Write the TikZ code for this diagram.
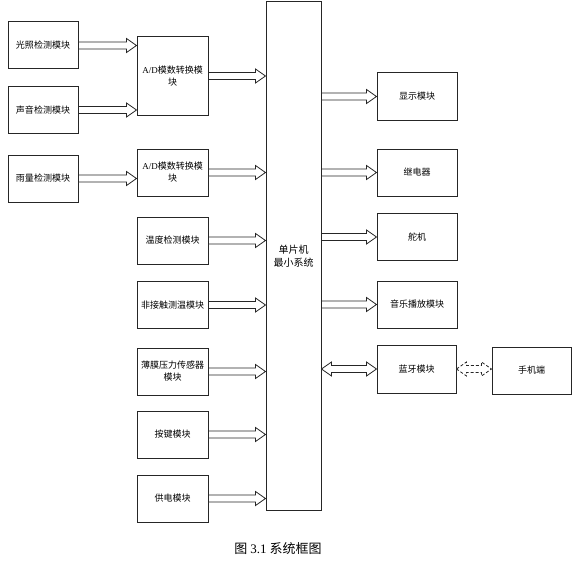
\documentclass[tikz,border=0pt]{standalone}
\usepackage{fontspec}
\setmainfont{Liberation Serif}
\newfontfamily\cjk{Noto Sans CJK SC}
\usepackage{tikz}
\usetikzlibrary{calc}

\begin{document}
\begin{tikzpicture}[x=1pt, y=-1pt,
  every node/.style={font=\cjk\fontsize{9}{12}\selectfont},
  blk/.style={draw=black!85, line width=1pt, minimum width=71pt,
    minimum height=47pt, align=center, inner sep=1pt},
  fat/.style={draw=black!85, line width=0.8pt, fill=white, line join=miter,
    to path={let \p1=(\tikztostart), \p2=(\tikztotarget) in
      (\x1,\y1+3.5pt) -- (\x2-10pt,\y1+3.5pt) -- (\x2-10pt,\y1+7pt)
      -- (\x2,\y1) -- (\x2-10pt,\y1-7pt) -- (\x2-10pt,\y1-3.5pt)
      -- (\x1,\y1-3.5pt) -- cycle}},
  fatboth/.style={draw=black!85, line width=0.8pt, fill=white, line join=miter,
    to path={let \p1=(\tikztostart), \p2=(\tikztotarget) in
      (\x1,\y1) -- (\x1+10pt,\y1+7pt) -- (\x1+10pt,\y1+3.5pt)
      -- (\x2-10pt,\y1+3.5pt) -- (\x2-10pt,\y1+7pt) -- (\x2,\y1)
      -- (\x2-10pt,\y1-7pt) -- (\x2-10pt,\y1-3.5pt)
      -- (\x1+10pt,\y1-3.5pt) -- (\x1+10pt,\y1-7pt) -- cycle}}]

\useasboundingbox (0,0) rectangle (577,567);

% sensors and input modules
\node[blk, minimum width=70pt] (light) at (43,45.5) {光照检测模块};
\node[blk, minimum width=70pt, minimum height=46pt] (sound) at (43,110) {声音检测模块};
\node[blk, minimum width=70pt] (rain) at (43,178.5) {雨量检测模块};
\node[blk, minimum height=78pt] (adA) at (172.5,76) {\textrm{A/D}模数转换模\\块};
\node[blk] (adB) at (172.5,172.5) {\textrm{A/D}模数转换模\\块};
\node[blk] (temp) at (172.5,240.5) {温度检测模块};
\node[blk] (irtemp) at (172.5,305) {非接触测温模块};
\node[blk] (film) at (172.5,371.5) {薄膜压力传感器\\模块};
\node[blk] (keys) at (172.5,434.5) {按键模块};
\node[blk] (power) at (172.5,498.5) {供电模块};

% controller
\node[blk, minimum width=55pt, minimum height=508pt,
      font=\cjk\fontsize{10}{13}\selectfont] (mcu) at (293.5,256) {单片机\\最小系统};

% output modules
\node[blk, minimum width=80pt] (disp) at (417,96.5) {显示模块};
\node[blk, minimum width=80pt] (relay) at (417,172.5) {继电器};
\node[blk, minimum width=80pt] (servo) at (417,237) {舵机};
\node[blk, minimum width=80pt] (music) at (417,304.5) {音乐播放模块};
\node[blk, minimum width=79pt, minimum height=48pt] (bt) at (416.5,369) {蓝牙模块};
\node[blk, minimum width=79pt] (phone) at (531.5,370.5) {手机端};

\draw[fat] (light.east) to (light.east -| adA.west);
\draw[fat] (sound.east) to (sound.east -| adA.west);
\draw[fat] (rain.east) to (rain.east -| adB.west);
\foreach \src in {adA,adB,temp,irtemp,film,keys,power}
  \draw[fat] (\src.east) to (\src.east -| mcu.west);
\foreach \dst in {disp,relay,servo,music}
  \draw[fat] (\dst.west -| mcu.east) to (\dst.west);
\draw[fatboth] (bt.west -| mcu.east) to (bt.west);
\draw[fatboth, dash pattern=on 3pt off 2pt] (bt.east) to (bt.east -| phone.west);

\node[font=\cjk\fontsize{13}{15}\selectfont] (cap) at (278,549) {图 \textrm{3.1} 系统框图};

\end{tikzpicture}
\end{document}
